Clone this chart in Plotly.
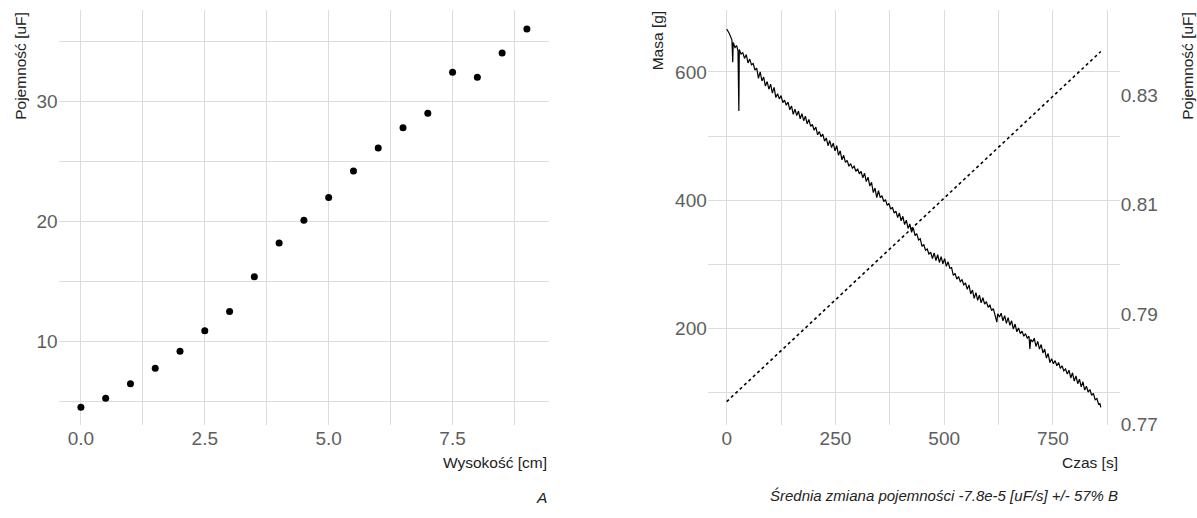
import plotly.graph_objects as go

# ---- Panel A data ----
height_cm = [0.0, 0.5, 1.0, 1.5, 2.0, 2.5, 3.0, 3.5, 4.0, 4.5, 5.0, 5.5, 6.0, 6.5, 7.0, 7.5, 8.0, 8.5, 9.0]
capacitance_uF = [4.55, 5.3, 6.5, 7.8, 9.2, 10.9, 12.5, 15.4, 18.2, 20.1, 22.0, 24.2, 26.1, 27.8, 29.0, 32.4, 32.0, 34.0, 36.0]
a_xticks = [0, 2.5, 5, 7.5]
a_xticktext = ["0.0", "2.5", "5.0", "7.5"]
a_yticks = [10, 20, 30]

# ---- Panel B data ----
time_s = [0, 3, 6, 9, 12, 14, 15, 19, 23, 26, 28, 29, 33, 37, 41, 45, 49, 53, 57, 61, 65, 69, 73, 77, 81, 85, 89, 93, 97,
          101, 105, 109, 113, 117, 121, 125, 129, 133, 137, 141, 145, 149, 153, 157, 161, 165, 169, 173, 177, 181, 185,
          189, 193, 197, 201, 205, 209, 213, 217, 221, 225, 229, 233, 237, 241, 245, 249, 253, 257, 261, 265, 269, 273,
          277, 281, 285, 289, 293, 297, 301, 305, 309, 313, 317, 321, 325, 329, 333, 337, 341, 345, 349, 353, 357, 361,
          365, 369, 373, 377, 381, 385, 389, 393, 397, 401, 405, 409, 413, 417, 421, 425, 429, 433, 437, 441, 445, 449,
          453, 457, 461, 465, 469, 473, 477, 481, 485, 489, 493, 497, 501, 505, 509, 513, 517, 521, 525, 529, 533, 537,
          541, 545, 549, 553, 557, 561, 565, 569, 573, 577, 581, 585, 589, 593, 597, 601, 605, 609, 613, 617, 621, 623,
          627, 631, 635, 639, 643, 647, 651, 655, 659, 663, 667, 671, 675, 679, 683, 687, 691, 695, 697, 699, 703, 707,
          711, 715, 719, 723, 727, 731, 735, 739, 743, 747, 751, 755, 759, 763, 767, 771, 775, 779, 783, 787, 791, 795,
          799, 803, 807, 811, 815, 819, 823, 827, 831, 835, 839, 843, 847, 851, 855, 858, 860]
mass_g = [667, 664, 660, 655, 650, 615, 646, 638, 641, 633, 539, 635,
          628, 630, 621, 627, 614, 620, 611, 613, 603, 606,
          590, 600, 586, 592, 578, 585, 573, 581, 567, 576,
          560, 566, 558, 563, 552, 556, 548, 553, 541, 547,
          534, 542, 532, 539, 527, 535, 524, 531, 519, 526,
          515, 518, 509, 514, 502, 507, 499, 503, 492, 497,
          485, 493, 482, 489, 477, 485, 470, 477, 463, 470,
          459, 462, 453, 457, 450, 453, 445, 449, 441, 445,
          435, 442, 429, 436, 422, 428, 412, 419, 404, 415,
          404, 407, 398, 401, 392, 395, 386, 389, 380, 383,
          373, 380, 368, 375, 362, 369, 356, 363, 350, 357,
          345, 348, 338, 340, 328, 331, 322, 324, 316, 319,
          309, 318, 306, 315, 303, 312, 301, 309, 297, 304,
          294, 295, 283, 286, 277, 281, 273, 276, 268, 271,
          261, 268, 254, 260, 247, 256, 244, 252, 240, 248,
          238, 242, 233, 237, 228, 231, 222, 210, 223, 218,
          224, 212, 220, 208, 217, 205, 212, 199, 207, 195,
          201, 192, 196, 188, 192, 185, 188, 168, 183, 179,
          185, 172, 180, 168, 175, 162, 168, 154, 161, 147,
          153, 145, 150, 142, 147, 138, 142, 134, 137, 129,
          135, 123, 131, 118, 126, 114, 121, 109, 117, 104,
          110, 101, 105, 96, 99, 89, 91, 82, 83, 77]
assert len(time_s) == len(mass_g)
fit_time_s = [0, 860]
fit_capacitance_uF = [0.7741, 0.8379]
b_xticks = [0, 250, 500, 750]
b_mass_ticks = [200, 400, 600]
b_cap_ticks = [0.77, 0.79, 0.81, 0.83]
b_cap_ticktext = ["0.77", "0.79", "0.81", "0.83"]

W, H = 1197, 518
FONT = "Liberation Sans, Arial, sans-serif"
GRID = "#dcdcdc"
TICKC = "#5e5e5e"
TITLEC = "#222222"
TSIZE = 15.5


def px(x):
    return x / W


def py(y):
    return 1 - y / H


ydom = [py(433), py(10)]

fig = go.Figure()
fig.add_trace(go.Scatter(x=height_cm, y=capacitance_uF, mode="markers",
                         marker=dict(color="black", size=7), xaxis="x", yaxis="y", showlegend=False))
fig.add_trace(go.Scatter(x=time_s, y=mass_g, mode="lines",
                         line=dict(color="black", width=1.2), xaxis="x2", yaxis="y2", showlegend=False))
fig.add_trace(go.Scatter(x=fit_time_s, y=fit_capacitance_uF, mode="lines",
                         line=dict(color="black", width=1.6, dash="dot"), xaxis="x2", yaxis="y3", showlegend=False))

common = dict(showline=False, zeroline=False, ticks="", gridcolor=GRID, gridwidth=1.3,
              tickfont=dict(family=FONT, size=19, color=TICKC))

fig.update_layout(
    width=W, height=H, margin=dict(l=0, r=0, t=0, b=0),
    paper_bgcolor="white", plot_bgcolor="white",
    xaxis=dict(domain=[px(58.6), px(549.2)], range=[-0.45, 9.45], anchor="y",
               tickvals=a_xticks, ticktext=a_xticktext,
               minor=dict(dtick=1.25, tick0=0, showgrid=True, gridcolor=GRID, gridwidth=1.3, ticks=""), **common),
    yaxis=dict(domain=ydom, range=[3.1, 37.6], anchor="x", tickvals=a_yticks,
               minor=dict(dtick=5, tick0=0, showgrid=True, gridcolor=GRID, gridwidth=1.3, ticks=""), **common),
    xaxis2=dict(domain=[px(707.8), px(1119.8)], range=[-43.4, 903.7], anchor="y2", tickvals=b_xticks,
                minor=dict(dtick=125, tick0=0, showgrid=True, gridcolor=GRID, gridwidth=1.3, ticks=""), **common),
    yaxis2=dict(domain=ydom, range=[50.2, 696.8], anchor="x2", tickvals=b_mass_ticks,
                minor=dict(dtick=100, tick0=0, showgrid=True, gridcolor=GRID, gridwidth=1.3, ticks=""), **common),
    yaxis3=dict(range=[0.7699, 0.8455], overlaying="y2", anchor="x2", side="right", showgrid=False,
                tickvals=b_cap_ticks, ticktext=b_cap_ticktext, showline=False, zeroline=False, ticks="",
                tickfont=dict(family=FONT, size=19, color=TICKC)),
)

ann = [
    dict(text="Pojemność [uF]", x=px(21), y=py(10), textangle=-90, xanchor="center", yanchor="top",
         font=dict(size=TSIZE, color=TITLEC)),
    dict(text="Wysokość [cm]", x=px(549.2), y=py(472), xanchor="right", yanchor="middle",
         font=dict(size=TSIZE, color=TITLEC)),
    dict(text="<i>A</i>", x=px(549.2), y=py(507), xanchor="right", yanchor="middle",
         font=dict(size=TSIZE, color=TITLEC)),
    dict(text="Masa [g]", x=px(657), y=py(10), textangle=-90, xanchor="center", yanchor="top",
         font=dict(size=TSIZE, color=TITLEC)),
    dict(text="Pojemność [uF]", x=px(1188), y=py(10), textangle=-90, xanchor="center", yanchor="top",
         font=dict(size=TSIZE, color=TITLEC)),
    dict(text="Czas [s]", x=px(1119.8), y=py(472), xanchor="right", yanchor="middle",
         font=dict(size=TSIZE, color=TITLEC)),
    dict(text="<i>Średnia zmiana pojemności -7.8e-5 [uF/s] +/- 57% B</i>", x=px(1119.8), y=py(505),
         xanchor="right", yanchor="middle", font=dict(size=15, color=TITLEC)),
]
for a in ann:
    a.update(xref="paper", yref="paper", showarrow=False)
    a["font"]["family"] = FONT
fig.update_layout(annotations=ann)

fig.write_html("out.html")
